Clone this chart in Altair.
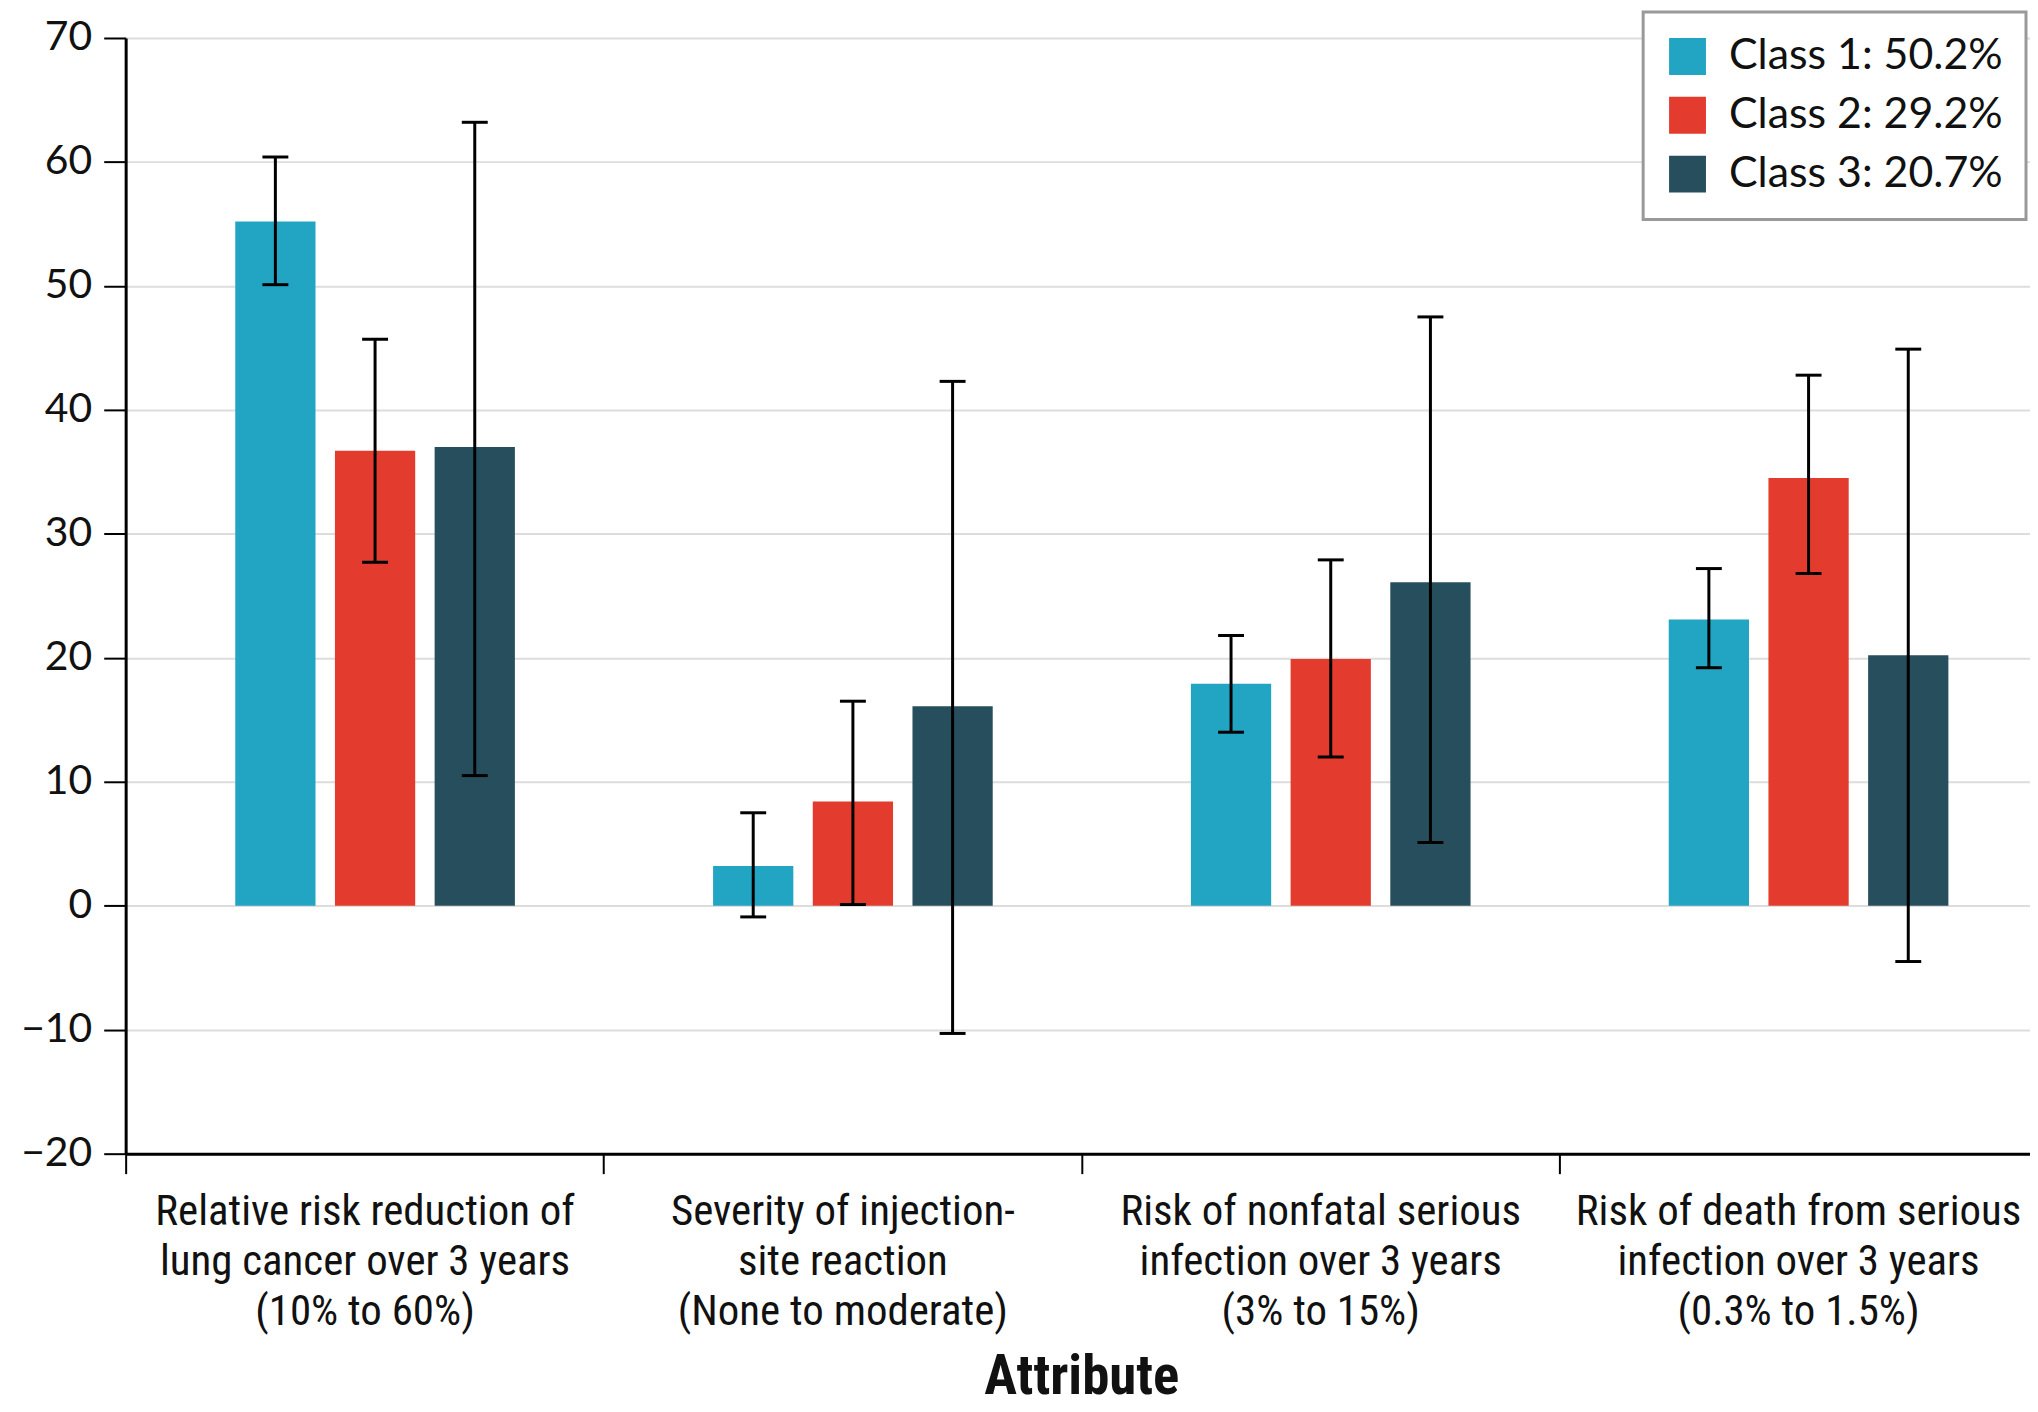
import altair as alt
import pandas as pd

attributes = [
    "Relative risk reduction of|lung cancer over 3 years|(10% to 60%)",
    "Severity of injection-|site reaction|(None to moderate)",
    "Risk of nonfatal serious|infection over 3 years|(3% to 15%)",
    "Risk of death from serious|infection over 3 years|(0.3% to 1.5%)",
]
classes = ["Class 1: 50.2%", "Class 2: 29.2%", "Class 3: 20.7%"]
colors = ["#22A5C3", "#E33C2F", "#274E5D"]

# values[class][attribute]
values = [
    [55.2, 3.2, 17.9, 23.1],
    [36.7, 8.4, 19.9, 34.5],
    [37.0, 16.1, 26.1, 20.2],
]
lower = [
    [50.1, -0.9, 14.0, 19.2],
    [27.7, 0.1, 12.0, 26.8],
    [10.5, -10.3, 5.1, -4.5],
]
upper = [
    [60.4, 7.5, 21.8, 27.2],
    [45.7, 16.5, 27.9, 42.8],
    [63.2, 42.3, 47.5, 44.9],
]

rows = []
for ci, c in enumerate(classes):
    for ai, a in enumerate(attributes):
        rows.append({"attribute": a, "cls": c, "value": values[ci][ai],
                     "lo": lower[ci][ai], "hi": upper[ci][ai]})
df = pd.DataFrame(rows)

LABEL_FONT = "Roboto Condensed, Liberation Sans Narrow, Lato, sans-serif"
MAIN_FONT = "Lato"

x_scale = alt.Scale(paddingInner=0, paddingOuter=0, range=[0, 1917])
x_enc = alt.X("attribute:N", sort=attributes, scale=x_scale,
              axis=alt.Axis(title="Attribute", labelAngle=0,
                            labelExpr="split(datum.label, '|')",
                            labelFont=LABEL_FONT, labelFontSize=43,
                            labelLineHeight=50, labelColor="#111",
                            labelPadding=17, labelBaseline="top",
                            labelLimit=0,
                            tickBand="extent", tickSize=20, tickWidth=2,
                            tickColor="#000", domainColor="#000", domainWidth=3,
                            titleFont=LABEL_FONT, titleFontSize=55,
                            titleFontWeight="bold", titleColor="#111",
                            titleY=224, titleBaseline="middle",
                            grid=False))
xo_enc = alt.XOffset("cls:N", sort=classes,
                     scale=alt.Scale(paddingInner=0.195, paddingOuter=0.994,
                                     align=0.553))

y_scale = alt.Scale(domain=[-20, 70], nice=False, zero=False)
y_axis = alt.Axis(title=None, values=list(range(-20, 71, 10)),
                  labelFont=MAIN_FONT, labelFontSize=41, labelColor="#111",
                  labelPadding=12, tickSize=22, tickWidth=2, tickColor="#000",
                  domainColor="#000", domainWidth=3,
                  grid=True, gridColor="#dddddd", gridWidth=2)

color_enc = alt.Color("cls:N", sort=classes,
                      scale=alt.Scale(domain=classes, range=colors),
                      legend=alt.Legend(title=None, orient="none",
                                        legendX=1522, legendY=-26,
                                        symbolType="square", symbolSize=1369,
                                        symbolStrokeWidth=0, symbolOpacity=1,
                                        labelFont=MAIN_FONT, labelFontSize=43,
                                        labelColor="#111", labelOffset=20,
                                        labelLimit=0,
                                        rowPadding=15, padding=23,
                                        strokeColor="#999999",
                                        fillColor="white"))

bars = alt.Chart(df).mark_bar(opacity=1).encode(
    x=x_enc, xOffset=xo_enc,
    y=alt.Y("value:Q", scale=y_scale, axis=y_axis),
    color=color_enc,
)

x_plain = alt.X("attribute:N", sort=attributes, scale=x_scale)

rules = alt.Chart(df).mark_rule(color="#000", strokeWidth=3).encode(
    x=x_plain, xOffset=xo_enc,
    y=alt.Y("lo:Q", scale=y_scale), y2="hi:Q",
)
caps_hi = alt.Chart(df).mark_tick(color="#000", size=26, thickness=3,
                                  orient="horizontal", opacity=1).encode(
    x=x_plain, xOffset=xo_enc,
    y=alt.Y("hi:Q", scale=y_scale),
)
caps_lo = alt.Chart(df).mark_tick(color="#000", size=26, thickness=3,
                                  orient="horizontal", opacity=1).encode(
    x=x_plain, xOffset=xo_enc,
    y=alt.Y("lo:Q", scale=y_scale),
)

chart = alt.layer(bars, rules, caps_hi, caps_lo).properties(
    width=1910, height=1119,
    autosize=alt.AutoSizeParams(type="none"),
    padding={"left": 118, "top": 28, "right": 0, "bottom": 256},
).configure_view(stroke=None).configure_legend(
    strokeWidth=3
)

chart.save("out.html", embed_options={"renderer": "svg", "actions": False})
